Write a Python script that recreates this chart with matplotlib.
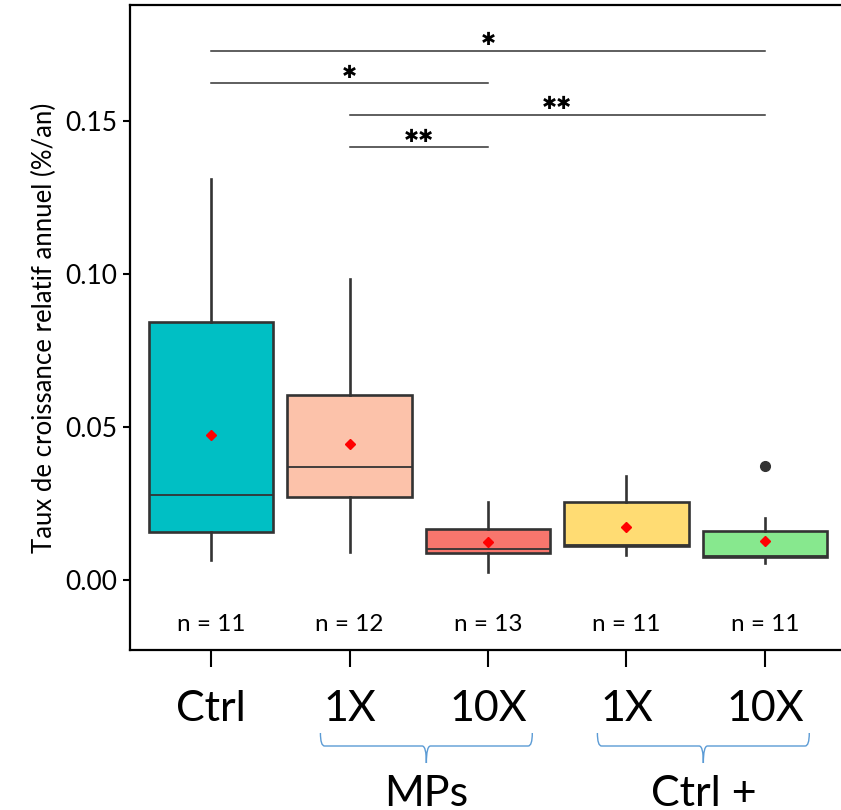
import matplotlib
matplotlib.use('Agg')
import matplotlib.pyplot as plt
from matplotlib.path import Path
from matplotlib.patches import PathPatch
from matplotlib.transforms import blended_transform_factory

plt.rcParams['font.family'] = ['Lato', 'DejaVu Sans']

# donnees
groups = ['Ctrl', '1X', '10X', '1X', '10X']
n_obs = [11, 12, 13, 11, 11]
whislo = [0.0065, 0.0090, 0.0027, 0.0082, 0.0056]
q1 = [0.0158, 0.0272, 0.0087, 0.0111, 0.0076]
med = [0.0276, 0.0368, 0.0101, 0.0113, 0.0078]
q3 = [0.0844, 0.0605, 0.0167, 0.0256, 0.0160]
whishi = [0.1310, 0.0984, 0.0256, 0.0340, 0.0203]
means = [0.0474, 0.0444, 0.0123, 0.0174, 0.0127]
outliers = [[], [], [], [], [0.0373]]
colors = ['#00BFC4', '#FCC2AA', '#F8766D', '#FFDC73', '#87E88E']

# comparaisons (groupe a, groupe b, hauteur, etoiles)
comparisons = [(1, 5, 0.1729, '*'), (1, 3, 0.1624, '*'),
               (2, 5, 0.1520, '**'), (2, 3, 0.1415, '**')]

# accolades sous l'axe
brackets = [('MPs', 2, 3), ('Ctrl +', 4, 5)]

edge = '#333333'

fig = plt.figure(figsize=(8.41, 8.10), dpi=100)
ax = fig.add_axes([130 / 841, 1 - 650 / 810, 711 / 841, 645 / 810])

pos = list(range(1, len(groups) + 1))
stats = []
for i in range(len(groups)):
    stats.append(dict(whislo=whislo[i], q1=q1[i], med=med[i], q3=q3[i],
                      whishi=whishi[i], fliers=outliers[i]))

bp = ax.bxp(stats, positions=pos, widths=0.9, patch_artist=True,
            showcaps=False,
            boxprops=dict(edgecolor=edge, linewidth=1.9),
            medianprops=dict(color=edge, linewidth=1.3),
            whiskerprops=dict(color=edge, linewidth=1.9),
            flierprops=dict(marker='o', markerfacecolor=edge, markeredgecolor=edge,
                            markersize=7))
for patch, c in zip(bp['boxes'], colors):
    patch.set_facecolor(c)

ax.plot(pos, means, linestyle='none', marker='D', color='red', markersize=5.5, zorder=5)

for p, n in zip(pos, n_obs):
    ax.text(p, -0.0147, 'n = %d' % n, ha='center', va='center', fontsize=17.5)

for a, b, h, s in comparisons:
    ax.plot([a, b], [h, h], color='#333333', linewidth=1.1)
    ax.text((a + b) / 2, h + 0.0034, '\u2731' * len(s), ha='center', va='center',
            fontsize=13, family='DejaVu Sans', fontweight='bold')

ax.set_xlim(0.415, 5.549)
ax.set_ylim(-0.0229, 0.1879)
ax.set_xticks(pos)
ax.set_xticklabels(groups, fontsize=31)
ax.set_yticks([0.0, 0.05, 0.10, 0.15])
ax.set_yticklabels(['0.00', '0.05', '0.10', '0.15'], fontsize=19)
ax.tick_params(axis='x', length=12, width=1.5, pad=17)
ax.tick_params(axis='y', length=5, width=1.5, pad=4)
ax.set_ylabel('Taux de croissance relatif annuel (%/an)', fontsize=18.5, labelpad=6)
ax.spines['right'].set_visible(False)
for sp in ['left', 'top', 'bottom']:
    ax.spines[sp].set_linewidth(1.6)

# accolades et noms de groupes
tr = blended_transform_factory(ax.transData, fig.transFigure)
y_top = 1 - 733 / 810
y_mid = 1 - 746 / 810
y_tip = 1 - 763 / 810
for name, a, b in brackets:
    x0 = a - 0.21
    x1 = b + 0.32
    xm = (x0 + x1) / 2
    d = 0.03
    verts = [(x0, y_top), (x0, y_mid), (x0 + d, y_mid),
             (xm - d, y_mid), (xm, y_mid), (xm, y_tip),
             (xm, y_tip), (xm, y_mid), (xm + d, y_mid),
             (x1 - d, y_mid), (x1, y_mid), (x1, y_top)]
    codes = [Path.MOVETO, Path.CURVE3, Path.CURVE3,
             Path.LINETO, Path.CURVE3, Path.CURVE3,
             Path.MOVETO, Path.CURVE3, Path.CURVE3,
             Path.LINETO, Path.CURVE3, Path.CURVE3]
    path = Path(verts, codes)
    fig.patches.append(PathPatch(path, transform=tr, facecolor='none',
                                 edgecolor='#5B9BD5', linewidth=1.0))
    fig.text(xm, 0.005, name, transform=tr, ha='center', va='baseline', fontsize=31)

fig.savefig('out.png', dpi=100)
